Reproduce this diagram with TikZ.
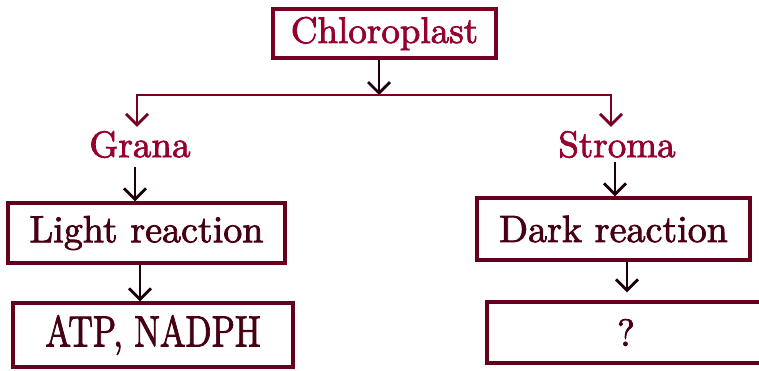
\documentclass[tikz,border=0pt]{standalone}
\usepackage{fontspec}
\setmainfont{lmroman10-regular.otf}[FakeBold=2]
\usetikzlibrary{arrows.meta}
\definecolor{crim}{RGB}{150,0,45}
\definecolor{darkcrim}{RGB}{70,0,20}
\definecolor{boxred}{RGB}{100,0,28}
\definecolor{linered}{RGB}{120,0,35}
\definecolor{arrk}{RGB}{30,0,10}
\begin{document}
\begin{tikzpicture}[x=1pt,y=-1pt,
  box/.style={draw=boxred, line width=3.4pt, inner sep=0pt, text=darkcrim,
    font=\fontsize{38}{42}\selectfont},
  lbl/.style={text=crim, inner sep=4pt, font=\fontsize{37}{40}\selectfont},
  arr/.style={draw=arrk, line width=2.8pt, -{Straight Barb[length=11pt,width=22pt]}},
  conn/.style={draw=linered, line width=2.8pt, line join=miter, -{Straight Barb[length=11pt,width=22pt]}}]
\useasboundingbox (0,0) rectangle (759,370);
\clip (0,0) rectangle (759,370);
\fill[white] (0,0) rectangle (759,370);
% nodes
\node[box, draw=linered, text=crim, minimum width=223pt, minimum height=49pt,
  font=\fontsize{37}{40}\selectfont] (chl) at (384.5,33.5) {Chloroplast};
\node[lbl] (grana) at (140,144.5) {Grana};
\node[lbl] (stroma) at (617,144.5) {Stroma};
\node[box, minimum width=277pt, minimum height=60pt] (light) at (146.5,233) {Light reaction};
\node[box, minimum width=273pt, minimum height=62pt] (dark) at (613.5,229) {Dark reaction};
\node[box, minimum width=280pt, minimum height=64pt] (atp) at (153,335)
  {\raisebox{-1pt}{\scalebox{0.9}[1.15]{ATP, NADPH}}};
\node[box, minimum width=278pt, minimum height=61pt] (q) at (626,332.5) {?};
% junctions
\coordinate (jM) at (379,95);
\coordinate (jL) at (137,95);
\coordinate (jR) at (611,95);
% connectors
\draw[arr] (chl.south -| jM) -- (jM);
\draw[conn] (jM) -- (jL) -- (jL |- grana.north);
\draw[conn] (jM) -- (jR) -- (jR |- stroma.north);
\draw[arr, shorten <=5pt] ([xshift=-5pt]grana.south) -- ([xshift=-5pt]grana.south |- light.north);
\draw[arr] ([xshift=-6.5pt]light.south) -- ([xshift=-6.5pt]light.south |- atp.north);
\draw[arr, shorten <=0pt] ([xshift=-2pt]stroma.south) -- ([xshift=-2pt]stroma.south |- dark.north);
\draw[arr, shorten >=8pt] ([xshift=13.5pt]dark.south) -- ([xshift=13.5pt]dark.south |- q.north);
\end{tikzpicture}
\end{document}
